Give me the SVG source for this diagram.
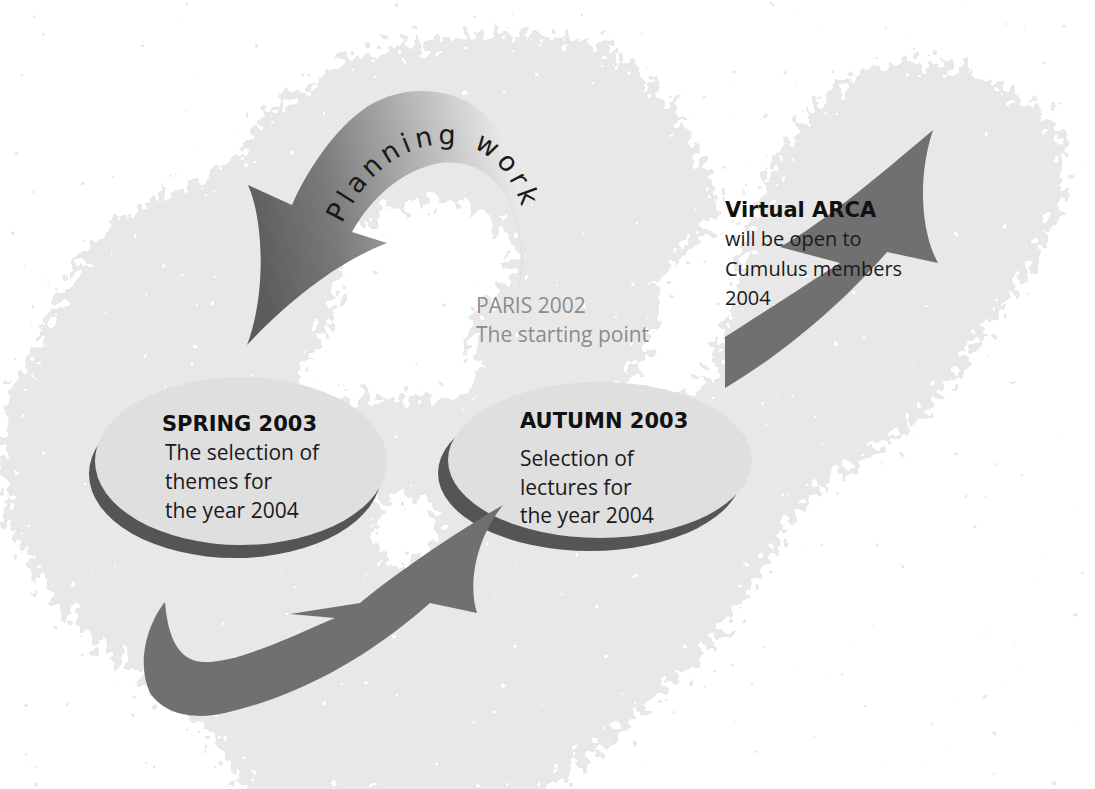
<svg xmlns="http://www.w3.org/2000/svg" width="1095" height="789" viewBox="0 0 1095 789">
  <defs>
    <style>
      .head { font-family: "DejaVu Sans", "Liberation Sans", sans-serif; font-weight: bold; font-size: 21px; fill: #111; }
      .body { font-family: "Open Sans", "Liberation Sans", sans-serif; font-size: 21px; fill: #1a1a1a; }
      .note { font-family: "Open Sans", "Liberation Sans", sans-serif; font-size: 20px; fill: #1a1a1a; }
      .muted { font-family: "Open Sans", "Liberation Sans", sans-serif; font-size: 21px; fill: #8c8c8c; }
      .arc-label { font-family: "DejaVu Sans", "Liberation Sans", sans-serif; font-size: 27px; fill: #1a1a1a; letter-spacing: 4.5px; }
      .disc { fill: #dfdfdf; }
      .disc-shadow { fill: #555555; }
      .flow { fill: #707070; }
    </style>
    <!-- speckled, spray-paint edge for the background cloud -->
    <filter id="speckle" filterUnits="userSpaceOnUse" x="-100" y="-100" width="1295" height="989" color-interpolation-filters="sRGB">
      <feGaussianBlur in="SourceAlpha" stdDeviation="12" result="soft"/>
      <feTurbulence type="fractalNoise" baseFrequency="0.1" numOctaves="2" seed="4" result="noise"/>
      <feColorMatrix in="noise" type="matrix" values="0 0 0 0 0  0 0 0 0 0  0 0 0 0 0  1 0 0 0 0" result="na"/>
      <feComposite in="soft" in2="na" operator="arithmetic" k1="0" k2="1" k3="1.6" k4="-0.8" result="sum"/>
      <feComponentTransfer in="sum" result="mask">
        <feFuncA type="discrete" tableValues="0 1"/>
      </feComponentTransfer>
      <feFlood flood-color="#e8e8e8"/>
      <feComposite in2="mask" operator="in"/>
    </filter>
    <linearGradient id="planGrad" gradientUnits="userSpaceOnUse" x1="255" y1="260" x2="530" y2="200">
      <stop offset="0" stop-color="#5c5c5c"/>
      <stop offset="0.3" stop-color="#7a7a7a"/>
      <stop offset="0.62" stop-color="#b0b0b0"/>
      <stop offset="1" stop-color="#f0f0f0"/>
    </linearGradient>
    <path id="planPath" d="M 342,224 C 372,160 418,140 458,145 C 495,150 516,180 526,222"/>
  </defs>

  <rect width="1095" height="789" fill="#ffffff"/>

  <!-- background cloud with white openings -->
  <g id="cloud" filter="url(#speckle)">
    <path fill-rule="evenodd" fill="#000" d="
      M 247,150 L 260,117 L 317,80 L 347,57 L 440,38 L 527,33 L 603,43 L 653,83 L 680,117 L 707,167 L 720,200
      L 700,240 L 665,270 L 655,320 L 640,370 L 600,398 L 700,398 L 727,330 L 735,280 L 752,215 L 782,150
      L 820,100 L 853,73 L 903,60 L 970,67 L 1003,90 L 1045,108 L 1064,150 L 1066,195 L 1036,262 L 986,330
      L 946,390 L 913,425 L 800,503 L 760,577 L 700,660 L 620,730 L 540,800 L 250,800 L 217,737 L 167,707
      L 127,667 L 80,627 L 40,580 L 8,520 L 0,450 L 10,385 L 40,340 L 67,283 L 100,233 L 150,200 L 200,183 Z
      M 355,225 L 400,205 L 445,200 L 490,212 L 515,245 L 512,285 L 480,298 L 468,330 L 478,365 L 470,398
      L 300,398 L 290,382 L 320,345 L 336,300 L 340,255 Z
      M 380,500 L 420,490 L 440,520 L 430,560 L 392,570 L 372,540 Z"/>
  </g>

  <!-- stage: spring -->
  <g id="spring-2003">
    <ellipse class="disc-shadow" cx="235" cy="474" rx="146" ry="84"/>
    <ellipse class="disc" cx="241" cy="461" rx="146" ry="84"/>
  </g>

  <!-- stage: autumn -->
  <g id="autumn-2003">
    <ellipse class="disc-shadow" cx="590" cy="473" rx="152" ry="78"/>
    <ellipse class="disc" cx="600" cy="460" rx="152" ry="78"/>
  </g>

  <!-- connectors -->
  <g id="connectors">
    <!-- planning work: curls from Paris back to spring -->
    <path id="arrow-planning" fill="url(#planGrad)" d="M 518,290 C 532,250 528,180 495,125 C 465,85 400,80 360,112 C 330,135 305,175 292,205 L 248,185 C 262,215 268,290 247,345 C 280,310 330,265 387,243 L 352,232 C 370,200 400,170 440,163 C 490,158 512,195 518,235 C 522,260 520,280 518,290 Z"/>
    <text class="arc-label"><textPath href="#planPath">Planning work</textPath></text>
    <!-- spring to autumn -->
    <path id="arrow-spring-autumn" class="flow" d="M 165,602 C 150,620 135,660 150,693 C 165,715 195,720 225,713 C 290,698 360,665 430,603 L 477,613 C 468,585 475,540 503,505 C 460,530 400,570 360,603 L 290,614 L 335,618 C 290,637 240,662 205,662 C 180,662 168,640 165,602 Z"/>
    <!-- autumn onwards to virtual ARCA -->
    <path id="arrow-autumn-arca" class="flow" d="M 725,388 L 725,337 C 760,315 810,282 840,263 L 780,247 C 820,225 880,175 933,130 C 918,175 920,230 938,263 L 887,252 C 850,295 790,350 725,388 Z"/>
  </g>

  <g id="paris-2002">
    <text class="muted" x="476" y="313">PARIS 2002</text>
    <text class="muted" x="476" y="342">The starting point</text>
  </g>

  <g id="spring-2003-label">
    <text class="head" x="162" y="431">SPRING 2003</text>
    <text class="body" x="165" y="460">The selection of</text>
    <text class="body" x="165" y="489">themes for</text>
    <text class="body" x="165" y="518">the year 2004</text>
  </g>

  <g id="autumn-2003-label">
    <text class="head" x="520" y="428">AUTUMN 2003</text>
    <text class="body" x="520" y="466">Selection of</text>
    <text class="body" x="520" y="495">lectures for</text>
    <text class="body" x="520" y="523">the year 2004</text>
  </g>

  <g id="virtual-arca">
    <text class="head" x="725" y="217">Virtual ARCA</text>
    <text class="note" x="725" y="246">will be open to</text>
    <text class="note" x="725" y="276">Cumulus members</text>
    <text class="note" x="725" y="305">2004</text>
  </g>
</svg>
